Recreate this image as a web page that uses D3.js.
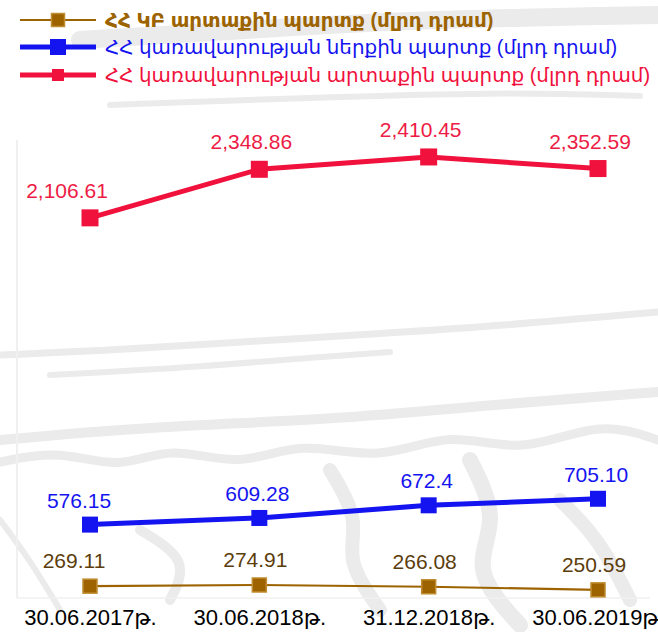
<!DOCTYPE html>
<html>
<head>
<meta charset="utf-8">
<script src="https://cdn.jsdelivr.net/npm/d3@7/dist/d3.min.js"></script>
<style>
  body { margin: 0; background: #fff; }
  svg { display: block; font-family: "Liberation Sans", Arial, "DejaVu Sans", sans-serif; }
</style>
</head>
<body>
<div id="chart"></div>
<script>
const dates = ['30.06.2017թ.', '30.06.2018թ.', '31.12.2018թ.', '30.06.2019թ.']
const seriesNames = [
  'ՀՀ ԿԲ արտաքին պարտք (մլրդ դրամ)',
  'ՀՀ կառավարության ներքին պարտք (մլրդ դրամ)',
  'ՀՀ կառավարության արտաքին պարտք (մլրդ դրամ)'
]
const cbExternal = [269.11, 274.91, 266.08, 250.59]
const govDomestic = [576.15, 609.28, 672.4, 705.10]
const govExternal = [2106.61, 2348.86, 2410.45, 2352.59]
const cbLabels = ['269.11', '274.91', '266.08', '250.59']
const domLabels = ['576.15', '609.28', '672.4', '705.10']
const extLabels = ['2,106.61', '2,348.86', '2,410.45', '2,352.59']

const w = 658, h = 632
const svg = d3.select('#chart').append('svg')
  .attr('width', w)
  .attr('height', h)

// faint sketch in the background
const deco = svg.append('g').attr('fill', 'none').attr('stroke', '#ebebeb').attr('stroke-linecap', 'round')
const curve = d3.line().curve(d3.curveBasis)
const bands = [
  { pts: [[0, 355], [120, 350], [300, 338], [450, 330], [658, 312]], sw: 7 },
  { pts: [[50, 375], [200, 367], [330, 356], [390, 352]], sw: 6 },
  { pts: [[0, 440], [160, 426], [330, 420], [500, 404], [658, 392]], sw: 10 },
  { pts: [[0, 462], [60, 450], [120, 470], [170, 445], [240, 468], [300, 440], [380, 462], [450, 430], [520, 455], [600, 420], [658, 440]], sw: 9 },
  { pts: [[80, 40], [250, 30], [400, 20], [658, 15]], sw: 18 },
  { pts: [[110, 105], [300, 98], [500, 92], [640, 96]], sw: 6 },
  { pts: [[330, 470], [360, 520], [345, 560], [380, 610]], sw: 14 },
  { pts: [[470, 460], [500, 520], [470, 570], [520, 625]], sw: 16 },
  { pts: [[560, 500], [600, 540], [630, 600]], sw: 14 },
  { pts: [[140, 530], [190, 560], [170, 600]], sw: 10 },
  { pts: [[0, 520], [30, 560], [60, 610]], sw: 6 }
]
bands.forEach(b => {
  deco.append('path').attr('d', curve(b.pts)).attr('stroke-width', b.sw)
})

const x = d3.scalePoint()
  .domain(dates)
  .range([90, 598])
const y = d3.scaleLinear()
  .domain([210, 2500])
  .range([598, 139])

// light frame lines
svg.append('line')
  .attr('x1', 17).attr('x2', 17).attr('y1', 140).attr('y2', y(210))
  .attr('stroke', '#f0f0f0').attr('stroke-width', 2)
svg.append('line')
  .attr('x1', 17).attr('x2', 650).attr('y1', y(210)).attr('y2', y(210))
  .attr('stroke', '#f0f0f0').attr('stroke-width', 1.5)

const xAxis = svg.append('g')
  .attr('transform', `translate(0,${y(210)})`)
  .call(d3.axisBottom(x).tickSize(0).tickPadding(11))
xAxis.select('.domain').remove()
xAxis.selectAll('text')
  .attr('font-size', '22px')
  .attr('font-family', '"Liberation Sans", Arial, "DejaVu Sans", sans-serif')
  .attr('fill', '#000')

const series = [
  { values: cbExternal, labels: cbLabels, color: '#9c6300', labelColor: '#5c3d0c', lw: 2.2, ms: 14, legMs: 13, stroke: '#c08d30', dx: -4, dx0: -16, dy: -18 },
  { values: govDomestic, labels: domLabels, color: '#1414f0', labelColor: '#1414f0', lw: 5, ms: 16, legMs: 16, stroke: 'none', dx: -2, dx0: -11, dy: -17 },
  { values: govExternal, labels: extLabels, color: '#f0113c', labelColor: '#ee1b45', lw: 5, ms: 17, legMs: 12, stroke: 'none', dx: -8, dx0: -23, dy: -20 }
]

const line = d3.line()
  .x((d, i) => x(dates[i]))
  .y(d => y(d))

series.forEach(s => {
  const g = svg.append('g')
  g.append('path')
    .attr('d', line(s.values))
    .attr('fill', 'none')
    .attr('stroke', s.color)
    .attr('stroke-width', s.lw)
  g.selectAll('rect')
    .data(s.values)
    .enter()
    .append('rect')
    .attr('x', (d, i) => x(dates[i]) - s.ms / 2)
    .attr('y', d => y(d) - s.ms / 2)
    .attr('width', s.ms)
    .attr('height', s.ms)
    .attr('fill', s.color)
    .attr('stroke', s.stroke)
    .attr('stroke-width', 1.5)
  g.selectAll('text')
    .data(s.values)
    .enter()
    .append('text')
    .attr('x', (d, i) => x(dates[i]) + (i === 0 ? s.dx0 : s.dx))
    .attr('y', d => y(d) + s.dy)
    .attr('text-anchor', 'middle')
    .attr('font-size', '21px')
    .attr('fill', s.labelColor)
    .text((d, i) => s.labels[i])
})

// legend
const legendY = [20, 47, 75]
const legend = svg.append('g')
series.forEach((s, i) => {
  const ly = legendY[i]
  legend.append('line')
    .attr('x1', 20).attr('x2', 96).attr('y1', ly).attr('y2', ly)
    .attr('stroke', s.color).attr('stroke-width', s.lw)
  legend.append('rect')
    .attr('x', 58 - s.legMs / 2).attr('y', ly - s.legMs / 2)
    .attr('width', s.legMs).attr('height', s.legMs)
    .attr('fill', s.color)
    .attr('stroke', s.stroke).attr('stroke-width', 1.5)
  legend.append('text')
    .attr('x', 105).attr('y', ly)
    .attr('dy', '0.35em')
    .attr('font-size', '19.9px')
    .attr('font-weight', i === 0 ? 'bold' : 'normal')
    .attr('fill', i === 0 ? '#9c6300' : s.color)
    .text(seriesNames[i])
})
</script>
</body>
</html>
